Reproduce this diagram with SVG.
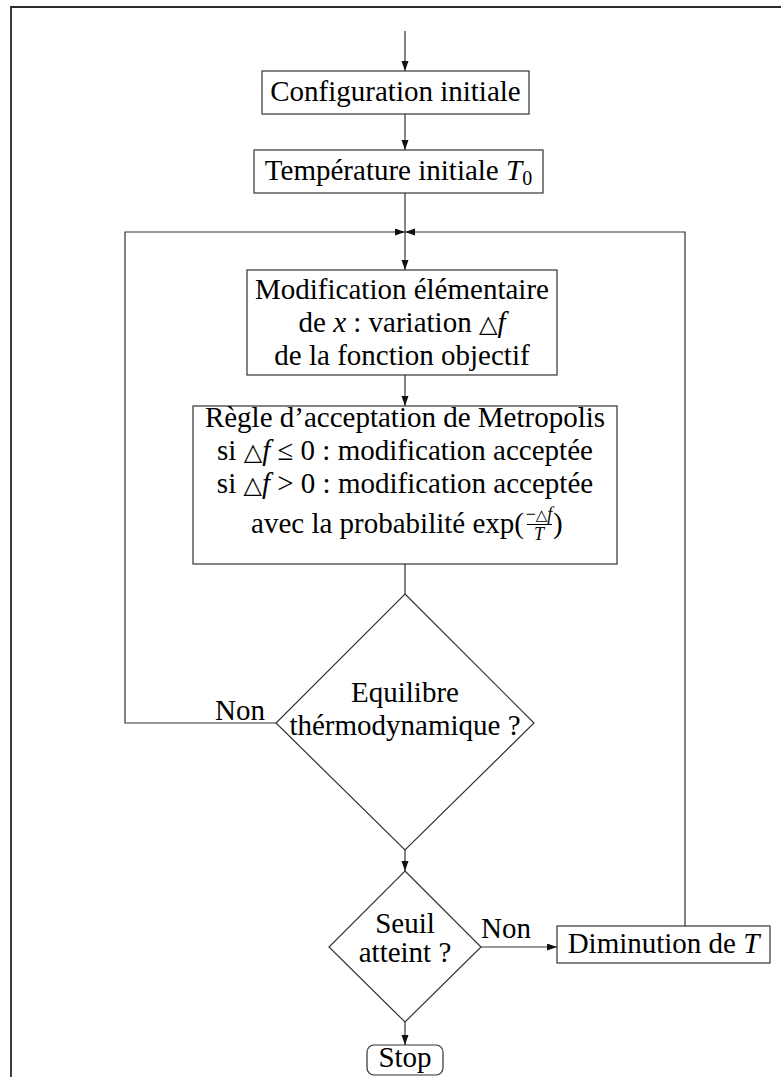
<svg xmlns="http://www.w3.org/2000/svg" width="781" height="1077" viewBox="0 0 781 1077">
  <style>
    .bg { fill: #ffffff; }
    .frame { fill: none; stroke: #2a2a2a; stroke-width: 1.8; }
    .node { fill: #ffffff; stroke: #333333; stroke-width: 1.2; }
    .edge { fill: none; stroke: #333333; stroke-width: 1.2; }
    .t { font-family: "Liberation Serif", "Times New Roman", serif; font-size: 29px; fill: #000000; text-anchor: middle; }
    .it { font-style: italic; }
    .sym { font-family: "DejaVu Sans", sans-serif; font-size: 24px; }
    .sub { font-size: 20px; }
    .frac { font-size: 18px; }
  </style>
  <defs>
    <marker id="arrow" markerUnits="userSpaceOnUse" markerWidth="11" markerHeight="8" refX="10" refY="3.5" orient="auto">
      <path d="M0,0 L10,3.5 L0,7 Z" fill="#111111"/>
    </marker>
  </defs>

  <rect class="bg" x="0" y="0" width="781" height="1077"/>
  <!-- page frame (top and left edges) -->
  <path class="frame" d="M11,1077 V7 H781"/>

  <!-- connectors -->
  <g id="connectors">
    <path class="edge" d="M405,31 V71" marker-end="url(#arrow)"/>
    <path class="edge" d="M405,114 V150" marker-end="url(#arrow)"/>
    <path class="edge" d="M405,193 V270" marker-end="url(#arrow)"/>
    <path class="edge" d="M405,375 V406" marker-end="url(#arrow)"/>
    <path class="edge" d="M405,564 V594"/>
    <path class="edge" d="M405,850 V871" marker-end="url(#arrow)"/>
    <path class="edge" d="M405,1022 V1045" marker-end="url(#arrow)"/>
    <!-- loop back when not in equilibrium -->
    <path class="edge" d="M276,723 H125 V232 H405" marker-end="url(#arrow)"/>
    <!-- loop back after lowering the temperature -->
    <path class="edge" d="M685,926 V232 H405" marker-end="url(#arrow)"/>
    <path class="edge" d="M481,947 H557" marker-end="url(#arrow)"/>
    <text class="t" x="240" y="720">Non</text>
    <text class="t" x="506" y="938">Non</text>
  </g>

  <g id="config-initiale">
    <rect class="node" x="262" y="71" width="267" height="43"/>
    <text class="t" x="395.5" y="101">Configuration initiale</text>
  </g>

  <g id="temperature-initiale">
    <rect class="node" x="254" y="150" width="289" height="43"/>
    <text class="t" x="398.5" y="180">Température initiale <tspan class="it">T</tspan><tspan class="sub" dy="5">0</tspan></text>
  </g>

  <g id="modification">
    <rect class="node" x="247" y="270" width="310" height="105"/>
    <text class="t" x="402" y="299">Modification élémentaire</text>
    <text class="t" x="402" y="332">de <tspan class="it">x</tspan> : variation <tspan class="sym">△</tspan><tspan class="it">f</tspan></text>
    <text class="t" x="402" y="365">de la fonction objectif</text>
  </g>

  <g id="metropolis">
    <rect class="node" x="193" y="406" width="424" height="158"/>
    <text class="t" x="405" y="427">Règle d’acceptation de Metropolis</text>
    <text class="t" x="405" y="460">si <tspan class="sym">△</tspan><tspan class="it">f</tspan> ≤ 0 : modification acceptée</text>
    <text class="t" x="405" y="493">si <tspan class="sym">△</tspan><tspan class="it">f</tspan> &gt; 0 : modification acceptée</text>
    <text class="t" x="524" y="533" style="text-anchor:end">avec la probabilité exp(</text>
    <!-- inline fraction -Δf / T -->
    <text class="t frac" x="539" y="520">−<tspan class="sym" style="font-size:15px">△</tspan><tspan class="it">f</tspan></text>
    <line x1="527" y1="524.5" x2="552" y2="524.5" stroke="#000000" stroke-width="1"/>
    <text class="t frac it" x="539" y="540">T</text>
    <text class="t" x="553" y="533" style="text-anchor:start">)</text>
  </g>

  <g id="equilibre">
    <path class="node" d="M405,594 L534,723 L405,850 L276,723 Z"/>
    <text class="t" x="405" y="702">Equilibre</text>
    <text class="t" x="405" y="735">thérmodynamique ?</text>
  </g>

  <g id="seuil">
    <path class="node" d="M405,871 L481,947 L405,1022 L329,947 Z"/>
    <text class="t" x="405" y="933">Seuil</text>
    <text class="t" x="405" y="962">atteint ?</text>
  </g>

  <g id="diminution">
    <rect class="node" x="557" y="926" width="213" height="37"/>
    <text class="t" x="663.5" y="953">Diminution de <tspan class="it">T</tspan></text>
  </g>

  <g id="stop">
    <rect class="node" x="367" y="1045" width="76" height="30" rx="7" ry="7"/>
    <text class="t" x="405" y="1067">Stop</text>
  </g>
</svg>
